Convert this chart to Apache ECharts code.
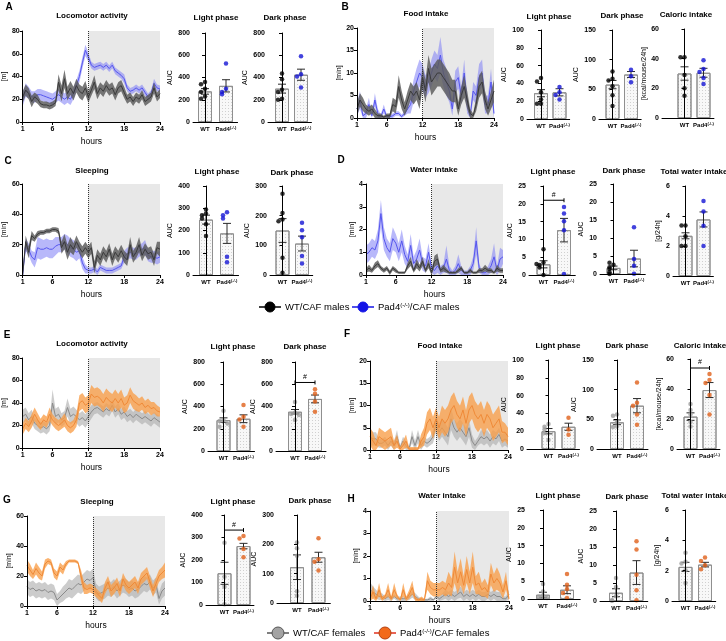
<!DOCTYPE html>
<html>
<head>
<meta charset="utf-8">
<script src="https://cdn.jsdelivr.net/npm/echarts@6/dist/echarts.min.js"></script>
<style>
  html, body { margin: 0; padding: 0; background: #fff; }
  #chart { width: 726px; height: 641px; }
</style>
</head>
<body>
<div id="chart"></div>
<script>
const FONT = '"Liberation Sans", Arial, sans-serif'

// time axis (hours)
const hours = [1,1.5,2,2.5,3,3.5,4,4.5,5,5.5,6,6.5,7,7.5,8,8.5,9,9.5,10,10.5,11,11.5,12,12.5,13,13.5,14,14.5,15,15.5,16,16.5,17,17.5,18,18.5,19,19.5,20,20.5,21,21.5,22,22.5,23,23.5,24]

// A - locomotor activity, males
const aWtMean = [22,28,25,18,22,20,16,15,15,14, 15,17,35,25,38,25,30,25,32,27, 25,30,22,28,35,25,30,27,32,28, 30,24,30,32,26,20,22,18,22,20, 24,18,20,22,30,22,25]
const aWtSem = [5,5,5,5,4,4,3,3,3,3, 3,3,7,7,8,6,6,6,6,6, 6,6,5,5,6,5,5,5,5,5, 5,5,5,5,5,4,4,4,4,4, 4,4,4,4,5,4,4]
const aKoMean = [20,28,26,22,22,24,24,23,22,21, 20,22,24,22,20,22,20,25,32,40, 52,63,57,50,48,49,50,48,50,47, 50,45,43,41,38,30,27,28,30,28, 30,26,22,25,34,30,29]
const aKoSem = [6,6,5,5,5,5,5,5,5,5, 5,5,5,5,5,5,5,5,5,5, 5,5,4,3,3,3,3,3,3,3, 3,3,3,3,4,3,3,3,3,3, 3,3,3,3,4,3,3]
// B - food intake, males
const bWtMean = [2,4,3,2,1.5,2,1,0.5,0.5,0.2, 0.5,0.5,3,2.5,7,4,2,4,6,5, 6,4,9,6,11,8,9,10,10,9, 8,7,6,6,2,5,7,4,1,0.5, 3,7,8,4,2,4,6]
const bWtSem = [1.5,1.5,1.5,1,1,1,1,0.5,0.5,0.3, 0.5,0.5,1.5,1.5,2.5,2,1.5,2,2,2, 2,2,2.5,2.5,3,3,3,3,3,3, 3,3,2.5,2.5,1.5,2,2.5,2,1,0.5, 1.5,2.5,2.5,2,1.5,2,2.5]
const bKoMean = [2,4,0.5,1,3,0.5,4,1,0.3,2, 0.3,0.3,0.5,1,1,0.3,1,2,3,6, 8,10,9,7,8,10,12,11,14,10, 8,6,2,8,9,5,10,3,0.5,6, 5,9,10,3,3,8,1]
const bKoSem = [1.5,2,0.5,1,1.5,0.5,1.5,1,0.5,1, 0.5,0.5,0.5,0.5,0.5,0.5,0.5,1,2,2.5, 3,3,3,2.5,2.5,3,3,3,4,3, 3,2.5,1.5,2.5,2.5,2,3,2,0.5,2, 2,3,3,2,2,3,1]
// C - sleeping, males
const cWtMean = [0,22,15,26,24,27,28,28,29,29, 30,30,29,18,22,15,20,17,22,18, 15,18,15,18,5,13,10,15,12,17, 10,15,12,16,12,10,20,12,15,20, 13,17,14,15,10,18,17]
const cWtSem = [0,4,4,3,2,2,1.5,1.5,1.5,1.5, 1.5,1.5,2,4,5,5,5,4,4,4, 4,4,4,4,4,4,4,4,4,4, 4,4,4,4,4,4,5,4,4,5, 4,4,4,4,4,4,5]
const cKoMean = [0,20,17,12,10,18,17,17,18,17, 17,19,20,20,22,20,18,17,15,16, 8,4,3,3,4,2,5,4,3,3, 3,4,5,6,12,14,15,14,14,16, 17,18,13,12,12,11,12]
const cKoSem = [0,4,4,4,5,7,7,6,6,6, 6,6,5,5,5,6,6,6,6,5, 4,3,2,2,2,2,2,2,2,2, 2,2,2,2,4,4,4,4,4,4, 4,5,4,4,4,4,4]
// D - water intake, males
const dWtMean = [0.2,0.3,0.2,0.4,0.5,0.3,0.2,0.3,0.1,0.3, 0.2,0.1,0.1,0.1,0.4,0.6,0.2,0.5,0.3,0.6, 0.2,0.5,0.1,0.6,0.7,0.2,0.3,0.2,0.1,0.1, 0.1,0.2,0.3,0.1,0.1,0.2,0.1,0.1,0.2,0.2, 0.3,0.2,0.2,0.1,0.3,0.2,0.2]
const dWtSem = [0.1,0.15,0.1,0.15,0.15,0.1,0.1,0.1,0.1,0.1, 0.1,0.05,0.05,0.05,0.15,0.2,0.1,0.2,0.15,0.2, 0.1,0.2,0.1,0.25,0.25,0.1,0.15,0.1,0.05,0.05, 0.05,0.1,0.1,0.05,0.05,0.1,0.05,0.05,0.1,0.1, 0.15,0.1,0.1,0.05,0.15,0.1,0.1]
const dKoMean = [0.9,1.0,1.2,1.1,1.5,2.7,1.6,1.2,1.0,1.6, 1.4,1.0,1.5,0.9,0.6,1.3,0.5,0.7,1.1,0.5, 0.4,1.0,0.3,0.2,0.4,0.2,0.3,0.7,0.2,0.1, 0.2,0.5,0.2,0.1,0.1,0.2,0.5,1.5,0.3,0.1, 0.1,0.2,0.4,0.8,0.2,0.7,0.8]
const dKoSem = [0.4,0.4,0.4,0.4,0.5,0.6,0.5,0.4,0.4,0.5, 0.4,0.4,0.5,0.4,0.3,0.5,0.3,0.4,0.5,0.3, 0.3,0.4,0.2,0.2,0.3,0.2,0.2,0.6,0.2,0.1, 0.2,0.4,0.2,0.1,0.1,0.2,0.3,0.6,0.2,0.1, 0.1,0.2,0.3,0.6,0.2,0.5,0.3]
// E - locomotor activity, females
const eWtMean = [28,30,25,28,22,20,18,19,17,20, 40,28,30,25,27,36,28,30,28,25, 27,24,28,32,35,36,34,32,35,33, 38,32,35,30,32,28,30,27,30,28, 26,28,26,24,27,25,23]
const eWtSem = [6,6,6,6,5,5,5,5,5,5, 12,7,7,6,6,8,7,7,6,6, 6,6,6,6,5,5,5,5,5,5, 5,5,5,5,5,5,5,5,5,5, 5,5,5,5,5,5,5]
const eKoMean = [17,22,19,24,30,25,21,25,23,30, 25,22,20,22,25,20,18,20,25,40, 42,38,40,48,45,46,44,40,45,42, 40,44,40,44,38,40,47,42,40,38, 40,36,38,35,36,33,32]
const eKoSem = [5,5,5,6,6,6,5,5,5,6, 5,5,5,5,6,5,5,5,6,7, 7,7,7,8,8,8,8,8,8,8, 8,8,8,8,7,7,7,7,7,6, 6,6,6,6,5,5,4]
// F - food intake, females
const fWtMean = [3,2.5,2.5,1.5,1.5,2,1,2,1,3, 0.5,2,1,0.2,3,1,3,1,2,1.5, 2,3,6,4,5,4,3,7,5,4, 5,4,3,5,2,1,2,3,2.5,3, 2,3,2.5,3.5,2,2.5,2]
const fWtSem = [2,1.5,1.5,1,1,1,1,1,1,1.5, 0.5,1,1,0.5,1.5,1,1.5,1,1,1, 1,1.5,2,2,2,2,2,2.5,2,2, 2,2,2,2,1.5,1,1,1.5,1.5,1.5, 1.5,1.5,1.5,1.5,1.5,1.5,1.5]
const fKoMean = [3,2,1,3,2.5,2,2.5,3,1,2, 0.2,1,2,0.2,0.2,0.2,0.2,2,3,6, 7,5,7,5,7,6,7,9,10,8, 7,9,6,9,10,8,7,8,6,8, 7,5,6,7,4,4,3]
const fKoSem = [2,2,1,2,2,2,2,2,1,1.5, 0.5,1,1.5,0.5,0.5,0.5,0.5,1.5,2,2.5, 2.5,2.5,2.5,2.5,3,3,3,3,3,3, 3,3,3,3,3,3,3,3,3,3, 3,3,3,3,2.5,2,2]
// G - sleeping, females
const gWtMean = [13,11,12,10,11,10,11,9,10,9, 4,6,8,10,12,11,13,15,14,16, 18,17,19,10,8,9,10,12,11,13, 10,12,14,13,11,12,10,11,13,15, 14,16,12,14,5,10,12]
const gWtSem = [5,5,5,5,5,5,5,5,5,5, 4,4,5,5,6,6,6,6,6,6, 6,6,6,5,5,5,5,5,5,5, 5,5,5,5,5,5,5,5,5,5, 5,5,5,5,4,5,5]
const gKoMean = [27,24,21,25,22,20,28,30,29,22, 20,26,24,28,30,30,30,29,20,12, 11,12,11,9,7,5,12,16,10,12, 15,10,18,14,12,14,16,12,18,20, 22,16,10,15,20,22,24]
const gKoSem = [4,4,3,4,4,3,3,2,2,3, 3,3,3,2,1,1,1,1,4,4, 3,3,3,3,3,3,4,4,4,4, 4,4,4,4,4,4,4,4,4,4, 4,4,4,4,4,4,5]
// H - water intake, females
const hWtMean = [0.5,0.4,0.3,0.2,0.2,0.1,0.2,0.1,0.2,0.1, 0.1,0.1,0.1,0.2,0.3,0.2,0.1,0.05,0.05,0.05, 0.1,0.05,0.2,0.1,0.2,0.3,0.2,0.3,0.2,0.3, 0.4,0.2,0.3,0.2,0.3,0.2,0.3,0.2,0.2,0.3, 0.2,0.3,0.2,0.2,0.1,0.1,0.3]
const hWtSem = [0.35,0.25,0.2,0.15,0.15,0.1,0.15,0.1,0.1,0.1, 0.1,0.1,0.1,0.15,0.15,0.15,0.1,0.05,0.05,0.05, 0.1,0.05,0.1,0.1,0.15,0.2,0.2,0.2,0.2,0.2, 0.25,0.2,0.2,0.2,0.2,0.2,0.2,0.2,0.2,0.2, 0.2,0.2,0.2,0.2,0.1,0.1,0.2]
const hKoMean = [0.1,0.4,0.1,0.5,0.1,0.2,0.5,0.1,0.5,0.2, 0.05,0.5,0.1,0.3,0.6,0.1,0.05,0.1,0.05,0.9, 0.6,0.5,0.5,0.5,0.6,0.5,0.8,0.6,1.5,0.8, 1.3,0.7,1.4,0.8,1.5,0.7,0.8,0.5,0.6,0.4, 1.2,0.8,1.0,0.8,0.4,0.9,0.1]
const hKoSem = [0.1,0.3,0.1,0.3,0.1,0.1,0.3,0.1,0.3,0.1, 0.05,0.3,0.1,0.2,0.3,0.1,0.05,0.1,0.05,0.4, 0.3,0.3,0.3,0.3,0.3,0.3,0.5,0.4,0.7,0.5, 0.6,0.4,0.6,0.5,0.7,0.4,0.5,0.3,0.4,0.3, 0.5,0.4,0.5,0.4,0.3,0.4,0.1]

// AUC / totals: [WT, Pad4] means and SEM, individual animals
const aLightMean = [275, 325], aLightSem = [25, 55]
const aLightWt = [360, 340, 300, 270, 230, 210], aLightKo = [525, 300, 270, 250]
const aDarkMean = [300, 425], aDarkSem = [40, 50]
const aDarkWt = [435, 385, 290, 270, 210, 200], aDarkKo = [590, 430, 410, 310]
const bLightMean = [29, 30], bLightSem = [4, 4]
const bLightWt = [46, 42, 30, 22, 17, 17], bLightKo = [36, 30, 27, 22]
const bDarkMean = [58, 75], bDarkSem = [7, 5]
const bDarkWt = [80, 68, 65, 55, 40, 22], bDarkKo = [83, 72, 62]
const bCalMean = [30, 30.5], bCalSem = [4.5, 3]
const bCalWt = [41, 41, 29, 20, 15], bCalKo = [39, 33, 31, 27, 23]
const cLightMean = [249, 187], cLightSem = [20, 45]
const cLightWt = [294, 276, 269, 254, 228, 175], cLightKo = [282, 269, 254, 82, 57]
const cDarkMean = [150, 106], cDarkSem = [40, 25]
const cDarkWt = [274, 209, 187, 181, 58, 8], cDarkKo = [176, 151, 127, 64, 39]
const dLightMean = [3, 12.6], dLightSem = [1, 3.3]
const dLightWt = [7.2, 3.5, 2.8, 2.1, 3.1, 0], dLightKo = [19.1, 17.3, 15.1, 12.6, 0.3]
const dDarkMean = [1.7, 4.3], dDarkSem = [0.5, 2.3]
const dDarkWt = [2.6, 3.1, 1.9, 1.4, 0.5, 0], dDarkKo = [13, 4.2, 2.3, 0.1]
const dTotMean = [2.68, 3.77], dTotSem = [0.2, 0.5]
const dTotWt = [3.37, 3.37, 2.65, 2.0, 2.0], dTotKo = [5.0, 4.3, 3.35, 2.0]
const eLightMean = [278, 290], eLightSem = [20, 35]
const eLightWt = [362, 278, 269, 248, 217], eLightKo = [414, 308, 284, 217]
const eDarkMean = [353, 468], eDarkSem = [20, 35]
const eDarkWt = [441, 344, 332, 323, 278], eDarkKo = [556, 514, 444, 353]
const fLightMean = [20, 25], fLightSem = [3, 4]
const fLightWt = [28, 25, 22, 18, 10], fLightKo = [35, 22, 16]
const fDarkMean = [45, 73], fDarkSem = [4, 12]
const fDarkWt = [58, 56, 46, 38, 37], fDarkKo = [112, 78, 73, 58, 41]
const fCalMean = [21.6, 39.3], fCalSem = [2.5, 5]
const fCalWt = [30, 26, 23, 18, 15], fCalKo = [50, 46, 44, 36, 23]
const gLightMean = [141, 262], gLightSem = [49, 12]
const gLightWt = [277, 126, 81, 3], gLightKo = [307, 296, 249, 212]
const gDarkMean = [122, 156], gDarkSem = [42, 17]
const gDarkWt = [206, 187, 161, 40, 25], gDarkKo = [221, 149, 141, 111]
const hLightMean = [1.2, 2.6], hLightSem = [0.7, 1.1]
const hLightWt = [4.2, 2.1, 0.9, 0.6, 0.3], hLightKo = [7.0, 4.0, 2.8, 1.7, 0.3]
const hDarkMean = [2.3, 7.9], hDarkSem = [1.1, 3.3]
const hDarkWt = [6.4, 3.9, 1.3, 0.2, 0.1], hDarkKo = [16.6, 14.3, 7.3, 3.0, 0.2]
const hTotMean = [2.25, 2.4], hTotSem = [0.3, 0.15]
const hTotWt = [3.18, 2.58, 2.47, 2.03, 1.19], hTotKo = [2.87, 2.63, 2.36, 2.1]

// significance brackets (height on the y axis)
const dLightSig = 21, eDarkSig = 616, fCalSig = 54, gLightSig = 333

const MALE = {
  wtLine: '#3a3a3a', wtBand: 'rgba(90,90,90,0.82)', wtDot: '#000',
  koLine: '#5555ee', koBand: 'rgba(125,125,245,0.55)', koDot: '#1414d4', koFirst: true
}
const FEMALE = {
  wtLine: '#8a8a8a', wtBand: 'rgba(170,170,170,0.6)', wtDot: '#9c9c9c',
  koLine: '#ef8a38', koBand: 'rgba(248,158,72,0.78)', koDot: '#e0601a', koFirst: false
}

const option = {
  animation: false,
  backgroundColor: '#fff',
  textStyle: { fontFamily: FONT },
  grid: [], xAxis: [], yAxis: [], series: [], graphic: []
}

function label(text, x, y, size, weight, extra) {
  option.graphic.push({
    type: 'text', x, y, silent: true,
    style: Object.assign({ text, fill: '#000', fontSize: size, fontWeight: weight, fontFamily: FONT,
      align: 'center', verticalAlign: 'middle' }, extra || {})
  })
}

function yAxisOf(gi, max, step, name, gap) {
  return {
    gridIndex: gi, type: 'value', min: 0, max, interval: step, z: 10,
    axisLine: { show: true, lineStyle: { color: '#000', width: 1 } },
    axisTick: { show: true, length: 3, lineStyle: { color: '#000' } },
    axisLabel: { fontSize: 7, fontWeight: 'bold', color: '#000', margin: 3, fontFamily: FONT },
    splitLine: { show: false },
    name, nameLocation: 'middle', nameRotate: 90, nameGap: gap,
    nameTextStyle: { fontSize: 7, color: '#000', fontFamily: FONT }
  }
}

function addTimeCourse(p) {
  const gi = option.grid.length
  const b = p.box
  option.grid.push({ left: b.left, top: b.top, width: b.right - b.left, height: b.bottom - b.top })
  option.xAxis.push({
    gridIndex: gi, type: 'value', min: 1, max: 24, z: 10,
    axisLine: { lineStyle: { color: '#000' } },
    axisTick: { customValues: [1, 6, 12, 18, 24], length: 3, lineStyle: { color: '#000' } },
    axisLabel: { customValues: [1, 6, 12, 18, 24], fontSize: 7, fontWeight: 'bold', color: '#000', margin: 4, fontFamily: FONT },
    splitLine: { show: false },
    name: 'hours', nameLocation: 'middle', nameGap: 15,
    nameTextStyle: { fontSize: 8.5, color: '#000', fontFamily: FONT }
  })
  option.yAxis.push(yAxisOf(gi, p.yMax, p.yStep, p.yName, p.nameGap))

  // dark phase shading and light/dark switch
  option.series.push({
    type: 'line', xAxisIndex: gi, yAxisIndex: gi, data: [], z: 1, silent: true,
    markArea: { silent: true, itemStyle: { color: '#e8e8e8' }, data: [[{ xAxis: 12 }, { xAxis: 24 }]] },
    markLine: {
      silent: true, symbol: 'none', label: { show: false },
      lineStyle: { color: '#333', type: 'dotted', width: 1 }, data: [{ xAxis: 12 }]
    }
  })

  const pal = p.pal
  const groups = [
    { mean: p.wt[0], sem: p.wt[1], band: pal.wtBand, line: pal.wtLine },
    { mean: p.ko[0], sem: p.ko[1], band: pal.koBand, line: pal.koLine }
  ]
  if (pal.koFirst) groups.reverse()
  groups.forEach((g, k) => {
    option.series.push({
      type: 'custom', xAxisIndex: gi, yAxisIndex: gi, silent: true, z: 2 + k * 2,
      data: [[1, 0]],
      renderItem: (params, api) => {
        const pts = []
        for (let i = 0; i < hours.length; i++) {
          pts.push(api.coord([hours[i], Math.min(p.yMax, g.mean[i] + g.sem[i])]))
        }
        for (let i = hours.length - 1; i >= 0; i--) {
          pts.push(api.coord([hours[i], Math.max(0, g.mean[i] - g.sem[i])]))
        }
        return { type: 'polygon', shape: { points: pts }, style: { fill: g.band } }
      }
    })
    option.series.push({
      type: 'line', xAxisIndex: gi, yAxisIndex: gi, silent: true, z: 3 + k * 2,
      data: hours.map((h, i) => [h, g.mean[i]]),
      symbol: 'none', lineStyle: { color: g.line, width: 1 }
    })
  })

  label(p.title, p.tx, p.ty, 8, 'bold')
  label(p.letter, p.lx, p.ly, 10, 'bold')
}

function swarm(pts, span) {
  const slots = [0, -4, 4, -7, 7, -2]
  return pts.map((v, i) => {
    let n = 0
    for (let j = 0; j < i; j++) if (Math.abs(pts[j] - v) < span * 0.045) n++
    return slots[Math.min(n, slots.length - 1)]
  })
}

function addBars(p) {
  const gi = option.grid.length
  const min = -p.gap / p.sp
  const max = 1.55
  option.grid.push({ left: p.x, top: p.top, width: (max - min) * p.sp, height: p.bottom - p.top })
  option.xAxis.push({
    gridIndex: gi, type: 'value', min, max, z: 10,
    axisLine: { lineStyle: { color: '#000' } },
    axisTick: { show: false },
    axisLabel: {
      customValues: [0, 1], margin: 4, color: '#000',
      formatter: v => (v === 0 ? '{b|WT}' : '{b|Pad4}{s|(-/-)}'),
      rich: {
        b: { fontSize: 6, fontWeight: 'bold', fontFamily: FONT, color: '#000' },
        s: { fontSize: 4, fontWeight: 'bold', fontFamily: FONT, color: '#000', verticalAlign: 'top' }
      }
    },
    splitLine: { show: false }
  })
  option.yAxis.push(yAxisOf(gi, p.yMax, p.yStep, p.yName, p.nameGap))

  option.series.push({
    type: 'bar', xAxisIndex: gi, yAxisIndex: gi, silent: true, barWidth: 14, z: 2,
    data: [[0, p.mean[0]], [1, p.mean[1]]],
    itemStyle: {
      color: '#f8f8f8', borderColor: '#8f8f8f', borderWidth: 1,
      decal: { symbol: 'rect', symbolSize: 1, color: 'rgba(0,0,0,0.16)', dashArrayX: [1, 2], dashArrayY: [1, 2] }
    }
  })
  option.series.push({
    type: 'custom', xAxisIndex: gi, yAxisIndex: gi, silent: true, z: 3,
    data: [[0, p.mean[0], p.sem[0]], [1, p.mean[1], p.sem[1]]],
    encode: { x: 0, y: 1 },
    renderItem: (params, api) => {
      const x = api.value(0), m = api.value(1), s = api.value(2)
      const top = api.coord([x, m + s])
      const bot = api.coord([x, Math.max(0, m - s)])
      const st = { stroke: '#2a2a2a', lineWidth: 1 }
      return {
        type: 'group', children: [
          { type: 'line', shape: { x1: top[0], y1: top[1], x2: bot[0], y2: bot[1] }, style: st },
          { type: 'line', shape: { x1: top[0] - 4, y1: top[1], x2: top[0] + 4, y2: top[1] }, style: st },
          { type: 'line', shape: { x1: bot[0] - 4, y1: bot[1], x2: bot[0] + 4, y2: bot[1] }, style: st }
        ]
      }
    }
  })
  const groups = [[0, p.wt, p.pal.wtDot], [1, p.ko, p.pal.koDot]]
  groups.forEach(([x, pts, color]) => {
    const offs = swarm(pts, p.yMax)
    option.series.push({
      type: 'scatter', xAxisIndex: gi, yAxisIndex: gi, silent: true, z: 4,
      symbolSize: 4.5,
      itemStyle: { color },
      data: pts.map((v, i) => ({ value: [x, v], symbolOffset: [offs[i], 0] }))
    })
  })
  if (p.sig != null) {
    option.series.push({
      type: 'custom', xAxisIndex: gi, yAxisIndex: gi, silent: true, z: 5,
      data: [[0.5, p.sig]],
      encode: { x: 0, y: 1 },
      renderItem: (params, api) => {
        const y = api.value(1)
        const a = api.coord([0, y]), c = api.coord([1, y])
        const st = { stroke: '#000', lineWidth: 1 }
        return {
          type: 'group', children: [
            { type: 'line', shape: { x1: a[0], y1: a[1], x2: c[0], y2: c[1] }, style: st },
            { type: 'line', shape: { x1: a[0], y1: a[1] - 2, x2: a[0], y2: a[1] + 2 }, style: st },
            { type: 'line', shape: { x1: c[0], y1: c[1] - 2, x2: c[0], y2: c[1] + 2 }, style: st },
            { type: 'text', x: (a[0] + c[0]) / 2, y: a[1] - 2,
              style: { text: '#', fill: '#000', fontSize: 7, fontFamily: FONT, align: 'center', verticalAlign: 'bottom' } }
          ]
        }
      }
    })
  }
  label(p.title, p.tx, p.ty, 8, 'bold')
}

// ---- time courses ----
const timeCourses = [
  { letter: 'A', lx: 9, ly: 7, title: 'Locomotor activity', tx: 92, ty: 16,
    box: { left: 22, top: 31, right: 160, bottom: 122 }, yMax: 80, yStep: 20, yName: '[m]', nameGap: 13,
    wt: [aWtMean, aWtSem], ko: [aKoMean, aKoSem], pal: MALE },
  { letter: 'B', lx: 345, ly: 7, title: 'Food intake', tx: 426, ty: 14,
    box: { left: 357, top: 28, right: 494, bottom: 118 }, yMax: 20, yStep: 5, yName: '[min]', nameGap: 13,
    wt: [bWtMean, bWtSem], ko: [bKoMean, bKoSem], pal: MALE },
  { letter: 'C', lx: 8, ly: 161, title: 'Sleeping', tx: 92, ty: 171,
    box: { left: 22, top: 184, right: 160, bottom: 275 }, yMax: 60, yStep: 20, yName: '[min]', nameGap: 13,
    wt: [cWtMean, cWtSem], ko: [cKoMean, cKoSem], pal: MALE },
  { letter: 'D', lx: 341, ly: 160, title: 'Water intake', tx: 434, ty: 170,
    box: { left: 366, top: 184, right: 503, bottom: 275 }, yMax: 4, yStep: 1, yName: '[min]', nameGap: 10,
    wt: [dWtMean, dWtSem], ko: [dKoMean, dKoSem], pal: MALE },
  { letter: 'E', lx: 7, ly: 335, title: 'Locomotor activity', tx: 92, ty: 344,
    box: { left: 22, top: 358, right: 160, bottom: 448 }, yMax: 80, yStep: 20, yName: '[m]', nameGap: 13,
    wt: [eWtMean, eWtSem], ko: [eKoMean, eKoSem], pal: FEMALE },
  { letter: 'F', lx: 347, ly: 334, title: 'Food intake', tx: 440, ty: 346,
    box: { left: 370, top: 361, right: 508, bottom: 450 }, yMax: 20, yStep: 5, yName: '[min]', nameGap: 13,
    wt: [fWtMean, fWtSem], ko: [fKoMean, fKoSem], pal: FEMALE },
  { letter: 'G', lx: 7, ly: 500, title: 'Sleeping', tx: 97, ty: 502,
    box: { left: 27, top: 516, right: 165, bottom: 606 }, yMax: 60, yStep: 20, yName: '[min]', nameGap: 13,
    wt: [gWtMean, gWtSem], ko: [gKoMean, gKoSem], pal: FEMALE },
  { letter: 'H', lx: 351, ly: 499, title: 'Water intake', tx: 442, ty: 496,
    box: { left: 370, top: 511, right: 509, bottom: 601 }, yMax: 4, yStep: 1, yName: '[min]', nameGap: 10,
    wt: [hWtMean, hWtSem], ko: [hKoMean, hKoSem], pal: FEMALE }
]
timeCourses.forEach(addTimeCourse)

// ---- bar panels ----
const barPanels = [
  { title: 'Light phase', tx: 216, ty: 18, x: 193, top: 33, bottom: 122, gap: 12, sp: 21, yMax: 800, yStep: 200, yName: 'AUC', nameGap: 19,
    mean: aLightMean, sem: aLightSem, wt: aLightWt, ko: aLightKo, pal: MALE },
  { title: 'Dark phase', tx: 285, ty: 18, x: 268, top: 33, bottom: 122, gap: 14, sp: 19, yMax: 800, yStep: 200, yName: 'AUC', nameGap: 19,
    mean: aDarkMean, sem: aDarkSem, wt: aDarkWt, ko: aDarkKo, pal: MALE },
  { title: 'Light phase', tx: 549, ty: 17, x: 527, top: 30, bottom: 119, gap: 14, sp: 18.5, yMax: 100, yStep: 20, yName: 'AUC', nameGap: 19,
    mean: bLightMean, sem: bLightSem, wt: bLightWt, ko: bLightKo, pal: MALE },
  { title: 'Dark phase', tx: 622, ty: 16, x: 599, top: 30, bottom: 119, gap: 13.5, sp: 18.5, yMax: 150, yStep: 50, yName: 'AUC', nameGap: 19,
    mean: bDarkMean, sem: bDarkSem, wt: bDarkWt, ko: bDarkKo, pal: MALE },
  { title: 'Caloric intake', tx: 686, ty: 15, x: 662, top: 29, bottom: 118, gap: 22.5, sp: 19, yMax: 60, yStep: 20, yName: '[kcal/mouse/24h]', nameGap: 14,
    mean: bCalMean, sem: bCalSem, wt: bCalWt, ko: bCalKo, pal: MALE },
  { title: 'Light phase', tx: 217, ty: 172, x: 193, top: 186, bottom: 275, gap: 13, sp: 21, yMax: 400, yStep: 100, yName: 'AUC', nameGap: 19,
    mean: cLightMean, sem: cLightSem, wt: cLightWt, ko: cLightKo, pal: MALE },
  { title: 'Dark phase', tx: 292, ty: 173, x: 270, top: 186, bottom: 275, gap: 12.5, sp: 19.5, yMax: 300, yStep: 100, yName: 'AUC', nameGap: 19,
    mean: cDarkMean, sem: cDarkSem, wt: cDarkWt, ko: cDarkKo, pal: MALE },
  { title: 'Light phase', tx: 553, ty: 172, x: 529, top: 186, bottom: 275, gap: 14.5, sp: 20.5, yMax: 25, yStep: 5, yName: 'AUC', nameGap: 15,
    mean: dLightMean, sem: dLightSem, wt: dLightWt, ko: dLightKo, pal: MALE, sig: dLightSig },
  { title: 'Dark phase', tx: 624, ty: 171, x: 600, top: 184, bottom: 274, gap: 13.5, sp: 20.5, yMax: 25, yStep: 5, yName: 'AUC', nameGap: 15,
    mean: dDarkMean, sem: dDarkSem, wt: dDarkWt, ko: dDarkKo, pal: MALE },
  { title: 'Total water intake', tx: 694, ty: 172, x: 673, top: 186, bottom: 276, gap: 12.5, sp: 18, yMax: 6, yStep: 2, yName: '[g/24h]', nameGap: 11,
    mean: dTotMean, sem: dTotSem, wt: dTotWt, ko: dTotKo, pal: MALE },
  { title: 'Light phase', tx: 233, ty: 347, x: 208, top: 362, bottom: 451, gap: 15.5, sp: 20, yMax: 800, yStep: 200, yName: 'AUC', nameGap: 19,
    mean: eLightMean, sem: eLightSem, wt: eLightWt, ko: eLightKo, pal: FEMALE },
  { title: 'Dark phase', tx: 305, ty: 347, x: 276, top: 362, bottom: 451, gap: 19, sp: 20, yMax: 800, yStep: 200, yName: 'AUC', nameGap: 19,
    mean: eDarkMean, sem: eDarkSem, wt: eDarkWt, ko: eDarkKo, pal: FEMALE, sig: eDarkSig },
  { title: 'Light phase', tx: 558, ty: 346, x: 527, top: 360, bottom: 449, gap: 21.5, sp: 20, yMax: 100, yStep: 20, yName: 'AUC', nameGap: 19,
    mean: fLightMean, sem: fLightSem, wt: fLightWt, ko: fLightKo, pal: FEMALE },
  { title: 'Dark phase', tx: 627, ty: 346, x: 597, top: 360, bottom: 449, gap: 20, sp: 20, yMax: 150, yStep: 50, yName: 'AUC', nameGap: 19,
    mean: fDarkMean, sem: fDarkSem, wt: fDarkWt, ko: fDarkKo, pal: FEMALE },
  { title: 'Caloric intake', tx: 700, ty: 346, x: 677, top: 359, bottom: 449, gap: 13.5, sp: 19, yMax: 60, yStep: 20, yName: '[kcal/mouse/24h]', nameGap: 14,
    mean: fCalMean, sem: fCalSem, wt: fCalWt, ko: fCalKo, pal: FEMALE, sig: fCalSig },
  { title: 'Light phase', tx: 233, ty: 502, x: 206, top: 515, bottom: 605, gap: 18.5, sp: 19, yMax: 400, yStep: 100, yName: 'AUC', nameGap: 19,
    mean: gLightMean, sem: gLightSem, wt: gLightWt, ko: gLightKo, pal: FEMALE, sig: gLightSig },
  { title: 'Dark phase', tx: 310, ty: 501, x: 277, top: 515, bottom: 603, gap: 20, sp: 21.5, yMax: 300, yStep: 100, yName: 'AUC', nameGap: 19,
    mean: gDarkMean, sem: gDarkSem, wt: gDarkWt, ko: gDarkKo, pal: FEMALE },
  { title: 'Light phase', tx: 558, ty: 496, x: 528, top: 510, bottom: 599, gap: 15, sp: 24, yMax: 25, yStep: 5, yName: 'AUC', nameGap: 15,
    mean: hLightMean, sem: hLightSem, wt: hLightWt, ko: hLightKo, pal: FEMALE },
  { title: 'Dark phase', tx: 627, ty: 497, x: 600, top: 511, bottom: 601, gap: 16, sp: 20.5, yMax: 25, yStep: 5, yName: 'AUC', nameGap: 15,
    mean: hDarkMean, sem: hDarkSem, wt: hDarkWt, ko: hDarkKo, pal: FEMALE },
  { title: 'Total water intake', tx: 695, ty: 496, x: 672, top: 510, bottom: 601, gap: 13.5, sp: 19.5, yMax: 6, yStep: 2, yName: '[g/24h]', nameGap: 11,
    mean: hTotMean, sem: hTotSem, wt: hTotWt, ko: hTotKo, pal: FEMALE }
]
barPanels.forEach(addBars)

// ---- legends ----
function legendItem(cx, cy, r, fill, stroke, lineColor, text) {
  option.graphic.push({ type: 'line', silent: true, shape: { x1: cx - 11, y1: cy, x2: cx + 11, y2: cy }, style: { stroke: lineColor, lineWidth: 1.5 } })
  option.graphic.push({ type: 'circle', silent: true, shape: { cx, cy, r }, style: { fill, stroke, lineWidth: 1 } })
  option.graphic.push({
    type: 'text', silent: true, x: cx + 15, y: cy,
    style: {
      text, fill: '#000', fontSize: 9.5, fontFamily: FONT, align: 'left', verticalAlign: 'middle',
      rich: {
        n: { fontSize: 9.5, fontFamily: FONT, fill: '#000' },
        s: { fontSize: 6, fontFamily: FONT, fill: '#000', verticalAlign: 'top' }
      }
    }
  })
}
legendItem(270, 307, 5, '#000', '#000', '#000', '{n|WT/CAF males}')
legendItem(363, 307, 5, '#1414e6', '#1414e6', '#1414e6', '{n|Pad4}{s|(-/-)}{n|/CAF males}')
legendItem(278, 633, 6, '#a3a3a3', '#555', '#555', '{n|WT/CAF females}')
legendItem(385, 633, 6, '#f26a1b', '#b54010', '#e0301e', '{n|Pad4}{s|(-/-)}{n|/CAF females}')

const chart = echarts.init(document.getElementById('chart'), null, { renderer: 'canvas' })
chart.setOption(option)
</script>
</body>
</html>
